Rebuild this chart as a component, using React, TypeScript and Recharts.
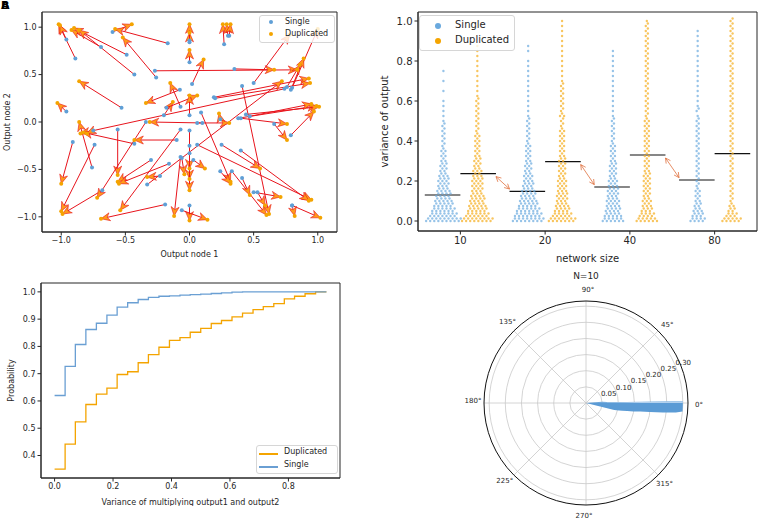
import React from "react"
import {
  ScatterChart,
  Scatter,
  LineChart,
  Line,
  XAxis,
  YAxis,
  ReferenceLine,
  ReferenceArea,
  RadarChart,
  Radar,
  PolarGrid,
  PolarAngleAxis,
  PolarRadiusAxis,
} from "recharts"

const FONT = "'DejaVu Sans', sans-serif"
const BLUE = "#5f9fd6"
const ORANGE = "#f4a400"
const INK = "#262626"

// ---- panel A: single -> duplicated output positions (one arrow per network)
const singleX = [
  -0.89, -0.96, -0.69, -0.49, -0.43, -0.6, -0.17, -0.26, -0.53, -0.96, 0, 0, 0, 0.27, 0.3, 0.31, 0.02, -0.27, 0.35,
  0.5, 0.8, 0.79, 0.76, 0.38, 0.44, 0.47, 0.79, 0.4, 0.66, 0.19, 0.2, -0.33, -0.07, 0.74, -0.075, -0.07, -0.2, -0.18,
  0, 0.1, 0.06, 0.09, 0.41, 0.06, 0.25, 0.4, 0.24, 0.33, 0.41, 0.5, 0.53, 0.8, 0.8, 0, 0, 0, 0, -0.06, 0.03, -0.07,
  -0.06, -0.91, -0.76, -0.74, -0.68, -0.56, -0.43, -0.75, -0.34, -0.3, -0.16, -0.19, -0.1, -0.23, 0.24,
]
const singleY = [
  0.67, 0.87, 0.79, 0.71, 0.5, 0.95, 0.83, 0.47, 0.15, 0.11, 0.63, 0.84, 0.86, 0.82, 0.91, 0.91, 0.4, 0.54, 0.56,
  0.41, 0.36, 0.34, 0.37, 0.04, 0.08, 0.06, -0.14, 0.04, -0.02, 0.26, 0.25, -0.66, -0.08, 0.35, 0.34, 0.16, 0.07, 0.15,
  0.07, -0.01, -0.01, 0.1, 0.38, -0.24, -0.24, -0.3, -0.52, -0.52, -0.59, -0.74, -0.74, -0.88, -0.88, -0.09, -0.25,
  -0.33, -0.88, -0.93, -0.4, -0.37, -0.38, -0.21, -0.48, -0.24, -0.72, -0.08, -0.23, -0.09, 0.0, -0.4, -0.44, -0.87,
  -0.19, -0.57, 0.03,
]
const dupX = [
  -1.02, -1.01, -0.92, -0.9, -0.86, -0.45, -0.58, -0.52, -0.86, -1.03, 0, 0, 0, 0.26, 0.29, 0.32, 0.11, 0.84, 0.66,
  0.78, 1.0, 0.89, 0.86, 0.99, 1.01, 0.95, 0.97, 0.76, 0.76, 0.93, 0.94, 0.72, -0.54, -0.85, -0.34, -0.15, -0.13, 0.06,
  0, -0.31, 0.31, 0.32, 0.62, 0.95, 0.55, 0.93, 0.32, 0.6, 0.47, 0.71, 0.59, 1.02, 0.82, 0, 0, 0, 0, 0.14, 0.12,
  -0.12, -0.04, -1.0, -0.86, -1.0, -0.99, -0.56, -0.83, -0.8, -0.72, -0.56, -0.55, -0.69, -0.43, -0.33, 0.23,
]
const dupY = [
  1.03, 1.02, 0.97, 0.99, 0.97, 1.03, 0.98, 0.89, 0.43, 0.2, 0.76, 0.94, 1.03, 1.03, 1.03, 1.03, 0.66, 0.55, 0.55,
  0.92, 0.98, 0.67, 0.6, 0.17, 0.16, 0.19, 0.11, -0.02, -0.19, 0.46, 0.41, 0.43, -0.93, -0.12, 0.2, 0.41, 0.21, 0.28,
  0.28, 0.0, -0.01, -0.63, -0.97, -0.82, -0.49, -0.83, -0.65, -0.98, -0.77, -0.79, -0.88, -1.01, -0.99, -0.49, -0.6,
  -0.72, -1.04, -1.03, -0.49, -0.99, -0.55, -0.65, 0.0, -0.94, -0.97, -0.56, -0.11, -0.12, -0.8, -0.63, -0.65, -1.02,
  -0.19, -0.58, 0.09,
]

// ---- panel B: variance of output by network size (dot counts per 0.025 level)
const networkSizes = ["10", "20", "40", "80"]
const singleMean = [0.13, 0.148, 0.17, 0.205]
const dupMean = [0.237, 0.297, 0.33, 0.337]
const single10 = [18, 14, 12, 10, 9, 8, 7, 6, 6, 5, 4, 4, 3, 3, 3, 2, 2, 2, 2, 2, 1, 1, 1, 1, 1, 0, 1, 0, 1, 0, 1]
const dup10 = [16, 12, 10, 9, 8, 7, 6, 6, 6, 5, 5, 4, 4, 3, 3, 3, 3, 3, 2, 2, 2, 2, 2, 2, 2, 1, 1, 1, 1, 1, 1, 1, 1, 1, 1, 1]
const single20 = [16, 14, 12, 10, 9, 8, 7, 6, 5, 5, 4, 4, 3, 3, 3, 3, 2, 2, 2, 2, 2, 1, 1, 1, 1, 1, 1, 1, 1, 1, 1, 1, 1, 0, 1, 1]
const dup20 = [14, 10, 8, 7, 6, 6, 5, 5, 5, 4, 4, 4, 4, 3, 3, 3, 3, 3, 3, 2, 2, 3, 2, 2, 2, 2, 2, 2, 1, 1, 1, 1, 1, 1, 1, 1, 1, 1, 1, 1, 1]
const single40 = [11, 9, 8, 7, 7, 6, 6, 5, 5, 4, 4, 4, 3, 3, 3, 3, 2, 2, 2, 2, 2, 1, 1, 1, 1, 1, 1, 1, 1, 1, 1, 1, 1, 1, 1]
const dup40 = [11, 8, 6, 5, 5, 4, 4, 4, 4, 4, 3, 3, 3, 3, 3, 3, 3, 3, 3, 3, 3, 2, 2, 2, 2, 2, 2, 2, 2, 2, 2, 2, 2, 2, 2, 2, 2, 2, 2, 2, 1]
const single80 = [8, 6, 5, 4, 3, 3, 3, 2, 2, 2, 2, 2, 2, 2, 2, 2, 2, 2, 2, 2, 2, 1, 2, 1, 1, 1, 1, 1, 1, 1, 1, 1, 1, 1, 1, 1, 1, 1, 1]
const dup80 = [10, 6, 4, 3, 2, 2, 2, 2, 2, 2, 2, 2, 2, 2, 2, 2, 2, 2, 2, 2, 2, 2, 2, 2, 2, 2, 2, 2, 2, 2, 2, 2, 2, 2, 2, 2, 2, 2, 2, 2, 2]
const LEVEL_STEP = 0.025

// ---- panel C: cumulative distribution of the product variance
const cdfX = [
  0, 0.036, 0.071, 0.107, 0.143, 0.179, 0.214, 0.25, 0.286, 0.321, 0.357, 0.393, 0.429, 0.464, 0.5, 0.536, 0.571,
  0.607, 0.643, 0.679, 0.714, 0.75, 0.786, 0.821, 0.857, 0.893, 0.93,
]
const cdfDuplicated = [
  0.35, 0.442, 0.523, 0.587, 0.625, 0.647, 0.697, 0.707, 0.74, 0.77, 0.797, 0.822, 0.832, 0.852, 0.866, 0.884, 0.895,
  0.908, 0.922, 0.935, 0.946, 0.957, 0.974, 0.984, 0.993, 1.0, 1.0,
]
const cdfSingle = [
  0.62, 0.727, 0.807, 0.862, 0.885, 0.915, 0.944, 0.96, 0.972, 0.98, 0.984, 0.985, 0.988, 0.99, 0.992, 0.994, 0.996,
  0.999, 1.0, 1.0, 1.0, 1.0, 1.0, 1.0, 1.0, 1.0, 1.0,
]

// ---- panel D: polar histogram of angles, N=10 (value at each degree)
const polarDeg = [4, 3, 2, 1, 0, -1, -2, -3, -4, -5, -6, -7, -8, -9, -10, -11, -12, -13, -14, -15]
const polarValue = [0.03, 0.05, 0.065, 0.065, 0.3, 0.3, 0.3, 0.3, 0.3, 0.3, 0.3, 0.28, 0.24, 0.2, 0.17, 0.15, 0.13, 0.115, 0.105, 0.09]
const polarLightDeg = [0, -1]
const polarLightValue = [0.3, 0.3]
const radiusTicks = [0.05, 0.1, 0.15, 0.2, 0.25, 0.3]
const angleLabels = [0, 45, 90, 135, 180, 225, 270, 315]

const fmt1 = (v: number) => (v < 0 ? "\u2212" : "") + Math.abs(v).toFixed(1)

const arrows = singleX.map((x, i) => ({ x1: x, y1: singleY[i], x2: dupX[i], y2: dupY[i] }))
const singlePts = singleX.map((x, i) => ({ x, y: singleY[i] }))
const dupPts = dupX.map((x, i) => ({ x, y: dupY[i] }))

// lay the dots of each level side by side, every other dot half a level up
function swarm(counts: number[], center: number) {
  const pts: { x: number; y: number }[] = []
  counts.forEach((c, k) => {
    for (let j = 0; j < c; j++)
      pts.push({ x: center + (j - (c - 1) / 2) * 0.024, y: k * LEVEL_STEP + (j % 2) * (LEVEL_STEP / 2) })
  })
  return pts
}
const singleSwarm = [single10, single20, single40, single80].flatMap((c, g) => swarm(c, g - 0.2))
const dupSwarm = [dup10, dup20, dup40, dup80].flatMap((c, g) => swarm(c, g + 0.2))

const cdfRows = cdfX.map((x, i) => ({ x, dup: cdfDuplicated[i], single: cdfSingle[i] }))

const polarRows = Array.from({ length: 360 }, (_, d) => {
  const i = polarDeg.findIndex((p) => (p + 360) % 360 === d)
  const j = polarLightDeg.findIndex((p) => (p + 360) % 360 === d)
  return { deg: d, main: i >= 0 ? polarValue[i] : 0, light: j >= 0 ? polarLightValue[j] : 0 }
})

const QuiverArrow = (props: any) => {
  const { x1, y1, x2, y2 } = props
  const dx = x2 - x1
  const dy = y2 - y1
  const len = Math.hypot(dx, dy) || 1
  const ux = dx / len
  const uy = dy / len
  const hl = 9
  const hw = 4
  const bx = x2 - ux * hl
  const by = y2 - uy * hl
  const nx = x2 - ux * (hl * 0.7)
  const ny = y2 - uy * (hl * 0.7)
  return (
    <g>
      <line x1={x1} y1={y1} x2={nx} y2={ny} stroke="#e8141c" strokeWidth={1} />
      <polygon
        points={`${x2},${y2} ${bx - uy * hw},${by + ux * hw} ${nx},${ny} ${bx + uy * hw},${by - ux * hw}`}
        fill="#ff9a1a"
        stroke="#e8141c"
        strokeWidth={0.6}
      />
    </g>
  )
}

const DoubleArrow = (props: any) => {
  const { x1, y1, x2, y2 } = props
  const len = Math.hypot(x2 - x1, y2 - y1) || 1
  const ux = (x2 - x1) / len
  const uy = (y2 - y1) / len
  const h = 5
  const w = 2.6
  const head = (tx: number, ty: number, s: number) =>
    `${tx - s * ux * h - uy * w},${ty - s * uy * h + ux * w} ${tx},${ty} ${tx - s * ux * h + uy * w},${ty - s * uy * h - ux * w}`
  return (
    <g fill="none" stroke="#e0713f" strokeWidth={0.8}>
      <line x1={x1} y1={y1} x2={x2} y2={y2} />
      <polyline points={head(x2, y2, 1)} />
      <polyline points={head(x1, y1, -1)} />
    </g>
  )
}

const dot = (r: number, fill: string, op = 1) => (p: any) => (
  <circle cx={p.cx} cy={p.cy} r={r} fill={fill} fillOpacity={op} />
)

const tick8 = { fontSize: 8, fill: INK, fontFamily: FONT }
const tick10 = { fontSize: 10, fill: INK, fontFamily: FONT }

const AngleTick = (props: any) => {
  const { x, y, payload } = props
  if (!angleLabels.includes(payload.value)) return <g />
  return (
    <text x={x} y={y} textAnchor="middle" dominantBaseline="central" fontSize={7} fill={INK} fontFamily={FONT}>
      {payload.value}°
    </text>
  )
}

const RadiusTick = (props: any) => {
  const { x, y, payload } = props
  return (
    <text x={x} y={y - 3} textAnchor="start" dominantBaseline="central" fontSize={7} fill={INK} fontFamily={FONT}>
      {Number(payload.value).toFixed(2)}
    </text>
  )
}

const legendBox = (left: number, top: number, w: number, h: number, fs: number): React.CSSProperties => ({
  position: "absolute",
  left,
  top,
  width: w,
  height: h,
  border: "1px solid #d6d6d6",
  borderRadius: 3,
  background: "rgba(255,255,255,0.8)",
  fontSize: fs,
  color: INK,
  boxSizing: "border-box",
})

export default function App() {
  return (
    <div
      style={{ position: "absolute", left: 0, top: 0, width: 758, height: 522, background: "#fff", fontFamily: FONT }}
    >
      {/* panel letters printed on top of each other in the source */}
      <div style={{ position: "absolute", left: 1, top: 0, fontSize: 11, lineHeight: "12px", fontWeight: 700 }}>A</div>
      <div style={{ position: "absolute", left: 1, top: 0, fontSize: 11, lineHeight: "12px", fontWeight: 700 }}>B</div>

      {/* A: quiver */}
      <div style={{ position: "absolute", left: 0, top: 0 }}>
        <ScatterChart width={345} height={262} margin={{ top: 12, right: 8, left: 0, bottom: 0 }}>
          <XAxis
            type="number"
            dataKey="x"
            domain={[-1.15, 1.15]}
            ticks={[-1, -0.5, 0, 0.5, 1]}
            tickFormatter={fmt1}
            tick={tick8}
            tickSize={3.5}
            height={30}
            stroke={INK}
            label={{ value: "Output node 1", position: "insideBottom", offset: 5, style: { ...tick8 } }}
          />
          <YAxis
            type="number"
            dataKey="y"
            domain={[-1.16, 1.16]}
            ticks={[-1, -0.5, 0, 0.5, 1]}
            tickFormatter={fmt1}
            tick={tick8}
            tickSize={3.5}
            width={42}
            stroke={INK}
            label={{
              value: "Output node 2",
              angle: -90,
              position: "insideLeft",
              offset: 7,
              style: { ...tick8, textAnchor: "middle" },
            }}
          />
          <ReferenceArea x1={-1.15} x2={1.15} y1={-1.16} y2={1.16} fill="none" stroke={INK} strokeWidth={1} />
          <Scatter data={singlePts} shape={dot(2, BLUE)} isAnimationActive={false} />
          <Scatter data={dupPts} shape={dot(2, ORANGE)} isAnimationActive={false} />
          {arrows.map((a, i) => (
            <ReferenceLine
              key={i}
              segment={[
                { x: a.x1, y: a.y1 },
                { x: a.x2, y: a.y2 },
              ]}
              ifOverflow="visible"
              shape={QuiverArrow}
            />
          ))}
        </ScatterChart>
      </div>
      <div style={legendBox(259, 15, 76, 28, 8)}>
        <div style={{ position: "absolute", left: 9, top: 4, width: 4, height: 4, borderRadius: 2, background: BLUE }} />
        <div style={{ position: "absolute", left: 25, top: 1 }}>Single</div>
        <div style={{ position: "absolute", left: 9, top: 16, width: 4, height: 4, borderRadius: 2, background: ORANGE }} />
        <div style={{ position: "absolute", left: 25, top: 13 }}>Duplicated</div>
      </div>

      {/* B: swarm by network size */}
      <div style={{ position: "absolute", left: 370, top: 0 }}>
        <ScatterChart width={388} height={265} margin={{ top: 12, right: 1, left: 0, bottom: 0 }}>
          <XAxis
            type="number"
            dataKey="x"
            domain={[-0.5, 3.5]}
            ticks={[0, 1, 2, 3]}
            tickFormatter={(v: number) => networkSizes[v]}
            tick={tick10}
            tickSize={3.5}
            height={34}
            stroke={INK}
            label={{ value: "network size", position: "insideBottom", offset: 3, style: { ...tick10 } }}
          />
          <YAxis
            type="number"
            dataKey="y"
            domain={[-0.05, 1.045]}
            ticks={[0, 0.2, 0.4, 0.6, 0.8, 1]}
            tickFormatter={fmt1}
            tick={tick10}
            tickSize={3.5}
            width={48}
            stroke={INK}
            label={{
              value: "variance of output",
              angle: -90,
              position: "insideLeft",
              offset: 14,
              style: { ...tick10, textAnchor: "middle" },
            }}
          />
          <ReferenceArea x1={-0.5} x2={3.5} y1={-0.05} y2={1.045} fill="none" stroke={INK} strokeWidth={1} />
          <Scatter data={singleSwarm} shape={dot(1.2, "#6aa9de", 0.7)} isAnimationActive={false} />
          <Scatter data={dupSwarm} shape={dot(1.2, "#f5ad1b", 0.7)} isAnimationActive={false} />
          {singleMean.map((m, g) => (
            <ReferenceLine key={"s" + g} segment={[{ x: g - 0.42, y: m }, { x: g, y: m }]} stroke="#111" strokeWidth={1.2} />
          ))}
          {dupMean.map((m, g) => (
            <ReferenceLine key={"d" + g} segment={[{ x: g, y: m }, { x: g + 0.42, y: m }]} stroke="#111" strokeWidth={1.2} />
          ))}
          {dupMean.slice(0, 3).map((m, g) => (
            <ReferenceLine
              key={"a" + g}
              segment={[
                { x: g + 0.42, y: m - 0.015 },
                { x: g + 0.58, y: singleMean[g + 1] + 0.012 },
              ]}
              shape={DoubleArrow}
            />
          ))}
        </ScatterChart>
      </div>
      <div style={legendBox(419, 15, 96, 36, 10)}>
        <div style={{ position: "absolute", left: 15, top: 7, width: 6, height: 6, borderRadius: 3, background: "#6aa9de" }} />
        <div style={{ position: "absolute", left: 35, top: 3 }}>Single</div>
        <div style={{ position: "absolute", left: 15, top: 22, width: 6, height: 6, borderRadius: 3, background: ORANGE }} />
        <div style={{ position: "absolute", left: 35, top: 18 }}>Duplicated</div>
      </div>

      {/* C: step CDF */}
      <div style={{ position: "absolute", left: 0, top: 270 }}>
        <LineChart width={345} height={236} data={cdfRows} margin={{ top: 13, right: 5, left: 0, bottom: 0 }}>
          <XAxis
            type="number"
            dataKey="x"
            domain={[-0.0465, 0.9765]}
            ticks={[0, 0.2, 0.4, 0.6, 0.8]}
            tickFormatter={fmt1}
            tick={tick8}
            tickSize={3.5}
            height={28}
            stroke={INK}
            label={{
              value: "Variance of multiplying output1 and output2",
              position: "insideBottom",
              offset: 1,
              style: { ...tick8 },
            }}
          />
          <YAxis
            type="number"
            domain={[0.3175, 1.0325]}
            ticks={[0.4, 0.5, 0.6, 0.7, 0.8, 0.9, 1]}
            tickFormatter={fmt1}
            tick={tick8}
            tickSize={3.5}
            width={41}
            stroke={INK}
            label={{
              value: "Probability",
              angle: -90,
              position: "insideLeft",
              offset: 11,
              style: { ...tick8, textAnchor: "middle" },
            }}
          />
          <ReferenceArea x1={-0.0465} x2={0.9765} y1={0.3175} y2={1.0325} fill="none" stroke={INK} strokeWidth={1} />
          <Line type="stepAfter" dataKey="dup" stroke={ORANGE} strokeWidth={1.3} dot={false} isAnimationActive={false} />
          <Line type="stepAfter" dataKey="single" stroke="#6a9fd3" strokeWidth={1.3} dot={false} isAnimationActive={false} />
        </LineChart>
      </div>
      <div style={legendBox(256, 445, 82, 29, 8)}>
        <div style={{ position: "absolute", left: 2, top: 7, width: 19, height: 1.5, background: ORANGE }} />
        <div style={{ position: "absolute", left: 27, top: 1 }}>Duplicated</div>
        <div style={{ position: "absolute", left: 2, top: 20, width: 19, height: 1.5, background: "#6a9fd3" }} />
        <div style={{ position: "absolute", left: 27, top: 14 }}>Single</div>
      </div>

      {/* D: polar histogram */}
      <div style={{ position: "absolute", left: 556, top: 271, width: 60, textAlign: "center", fontSize: 9, color: INK }}>
        N=10
      </div>
      <div style={{ position: "absolute", left: 460, top: 270 }}>
        <RadarChart
          width={260}
          height={252}
          data={polarRows}
          cx={126}
          cy={133}
          outerRadius={102}
          startAngle={0}
          endAngle={360}
          margin={{ top: 0, right: 0, bottom: 0, left: 0 }}
        >
          <PolarGrid gridType="circle" polarAngles={angleLabels} stroke="#c9c9c9" strokeWidth={0.8} />
          <PolarAngleAxis
            dataKey="deg"
            tick={AngleTick}
            tickLine={false}
            tickSize={11}
            axisLineType="circle"
            axisLine={{ stroke: "#111", strokeWidth: 1 }}
          />
          <PolarRadiusAxis
            angle={22.5}
            domain={[0, 0.316]}
            ticks={radiusTicks as any}
            tick={RadiusTick}
            axisLine={false}
          />
          <Radar dataKey="main" fill="#5b9bd5" fillOpacity={1} stroke="none" dot={false} isAnimationActive={false} />
          <Radar dataKey="light" fill="#b3d1ee" fillOpacity={1} stroke="none" dot={false} isAnimationActive={false} />
        </RadarChart>
      </div>
    </div>
  )
}
